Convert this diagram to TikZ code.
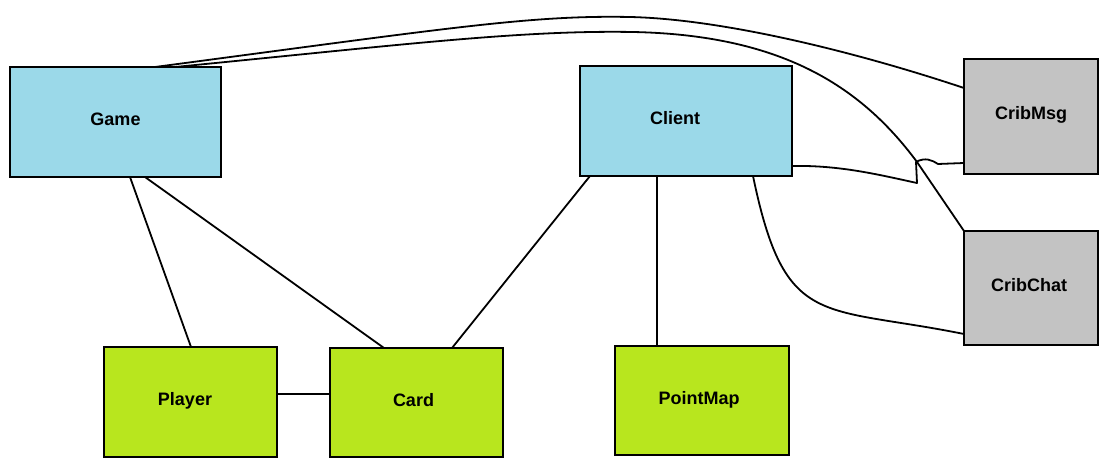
\documentclass[tikz,border=0pt]{standalone}
\usepackage{fontspec}
\setmainfont{Liberation Sans}
\usetikzlibrary{calc}
\definecolor{blueclass}{RGB}{155,217,233}
\definecolor{greenclass}{RGB}{184,230,30}
\definecolor{grayclass}{RGB}{195,195,195}
\tikzset{
  classbox/.style={draw=black, line width=2.6pt, inner sep=0pt, outer sep=0pt,
    text height=13pt, text depth=6pt,
    font=\fontsize{18}{20}\selectfont\bfseries},
  bluebox/.style={classbox, fill=blueclass},
  greenbox/.style={classbox, fill=greenclass},
  graybox/.style={classbox, fill=grayclass},
  conn/.style={draw=black, line width=1.8pt, line join=round}
}
\begin{document}
\begin{tikzpicture}[x=1pt,y=-1pt]
\useasboundingbox[fill=white] (0,0) rectangle (1110,476);
\node[bluebox, minimum width=211pt, minimum height=110pt] (game) at (115.5,122) {Game};
\node[bluebox, minimum width=212pt, minimum height=110pt] (client) at (686,121) {Client\kern22pt};
\node[graybox, minimum width=134pt, minimum height=115pt] (cribmsg) at (1031,116.5) {CribMsg};
\node[graybox, minimum width=134pt, minimum height=114pt] (cribchat) at (1031,288) {CribChat\kern4pt};
\node[greenbox, minimum width=173pt, minimum height=110pt] (player) at (190.5,402) {Player\kern11pt};
\node[greenbox, minimum width=173pt, minimum height=109pt] (card) at (416.5,402.5) {Card\kern6pt};
\node[greenbox, minimum width=174pt, minimum height=109pt] (pointmap) at (702,400.5) {PointMap\kern6pt};

\draw[conn] ($(game.south)+(14.5,0)$) -- ($(player.north)+(0.5,0)$);
\draw[conn] ($(game.south)+(29.5,0)$) -- ($(card.north)+(-32.5,0)$);
\draw[conn] ($(player.east)+(0,-8)$) -- ($(card.west)+(0,-8.5)$);
\draw[conn] ($(client.south)+(-96,0)$) -- ($(card.north)+(35.5,0)$);
\draw[conn] ($(client.south)+(-29,0)$) -- ($(pointmap.north)+(-45,0)$);
\draw[conn] ($(client.south)+(67,0)$) .. controls (785,330) and (820,305) .. ($(cribchat.west)+(0,46)$);
\draw[conn] ($(client.east)+(0,45)$) .. controls (840,165) and (880,175) .. (917,183) -- (916,162) .. controls (925,157) and (932,160) .. (938,164) -- ($(cribmsg.west)+(0,46.5)$);
\draw[conn] ($(game.north)+(39.5,0)$) .. controls (450,28) and (530,15) .. (630,17) .. controls (720,19) and (850,50) .. ($(cribmsg.west)+(0,-28.5)$);
\draw[conn] ($(game.north)+(59.5,0)$) .. controls (400,45) and (520,30) .. (633,32) .. controls (780,35) and (860,85) .. (917,162) -- (cribchat.north west);
\end{tikzpicture}
\end{document}
